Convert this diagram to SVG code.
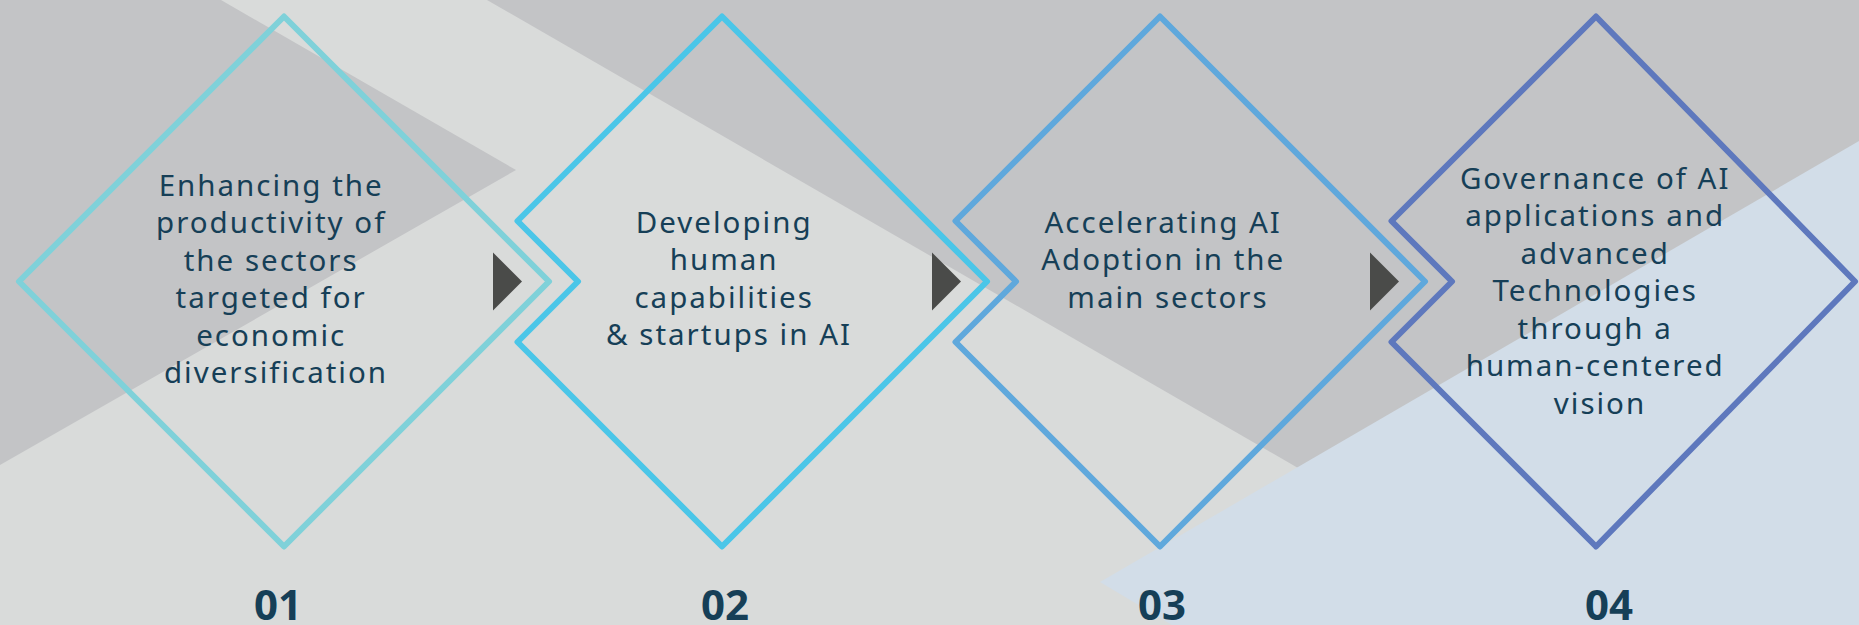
<svg xmlns="http://www.w3.org/2000/svg" width="1859" height="625" viewBox="0 0 1859 625">
  <style>
    .bg { fill: #d9dbda; }
    .dark { fill: #c3c4c6; }
    .pale { fill: #d2dde8; }
    .dia { fill: none; stroke-width: 6; stroke-linejoin: round; }
    .lbl { font-family: "Noto Sans", "Open Sans", sans-serif; font-size: 29.5px; letter-spacing: 2px; fill: #163f57; text-anchor: middle; }
    .num { font-family: "Noto Sans", "Open Sans", sans-serif; font-size: 42px; font-weight: bold; fill: #163f57; text-anchor: middle; }
    .arrow { fill: #4a4b49; }
  </style>
  <g id="background">
    <rect class="bg" x="0" y="0" width="1859" height="625"/>
    <polygon class="dark" points="0,0 221,0 516,170 0,465"/>
    <polygon class="dark" points="487,0 1859,0 1859,142 1298,468"/>
    <polygon class="pale" points="1100,582 1859,141 1859,625 1172,625"/>
  </g>
  <g id="node-1">
    <path class="dia" stroke="#7fd1d9" d="M284,16.5 L549,281.5 L284,546.5 L19,281.5 Z"/>
    <text class="lbl">
      <tspan x="276" y="195.5">Enhancing the</tspan>
      <tspan x="276" y="233">productivity of</tspan>
      <tspan x="276" y="270.5">the sectors</tspan>
      <tspan x="276" y="308">targeted for</tspan>
      <tspan x="276" y="345.5">economic</tspan>
      <tspan x="276" y="383">diversification</tspan>
    </text>
    <text class="num" x="278" y="620">01</text>
  </g>
  <g id="node-2">
    <path class="dia" stroke="#4bc6e8" d="M722,16.5 L987,281.5 L722,546.5 L517.5,342 L578,281.5 L517.5,221 Z"/>
    <text class="lbl">
      <tspan x="729" y="232.5">Developing</tspan>
      <tspan x="729" y="270">human</tspan>
      <tspan x="729" y="307.5">capabilities</tspan>
      <tspan x="729" y="345">&amp; startups in AI</tspan>
    </text>
    <text class="num" x="725" y="620">02</text>
  </g>
  <g id="node-3">
    <path class="dia" stroke="#5fa8dc" d="M1160,16.5 L1425,281.5 L1160,546.5 L955.5,342 L1016,281.5 L955.5,221 Z"/>
    <text class="lbl">
      <tspan x="1168" y="232.5">Accelerating AI</tspan>
      <tspan x="1168" y="270">Adoption in the</tspan>
      <tspan x="1168" y="307.5">main sectors</tspan>
    </text>
    <text class="num" x="1162" y="620">03</text>
  </g>
  <g id="node-4">
    <path class="dia" stroke="#5e78bd" d="M1596,16.5 L1855,281.5 L1596,546.5 L1391.5,342 L1452,281.5 L1391.5,221 Z"/>
    <text class="lbl">
      <tspan x="1600" y="188.5">Governance of AI</tspan>
      <tspan x="1600" y="226">applications and</tspan>
      <tspan x="1600" y="263.5">advanced</tspan>
      <tspan x="1600" y="301">Technologies</tspan>
      <tspan x="1600" y="338.5">through a</tspan>
      <tspan x="1600" y="376">human-centered</tspan>
      <tspan x="1600" y="413.5">vision</tspan>
    </text>
    <text class="num" x="1609" y="620">04</text>
  </g>
  <g id="connectors">
    <polygon class="arrow" points="493,252.5 522,281.5 493,310.5"/>
    <polygon class="arrow" points="932,252.5 961,281.5 932,310.5"/>
    <polygon class="arrow" points="1370,252.5 1399,281.5 1370,310.5"/>
  </g>
</svg>
